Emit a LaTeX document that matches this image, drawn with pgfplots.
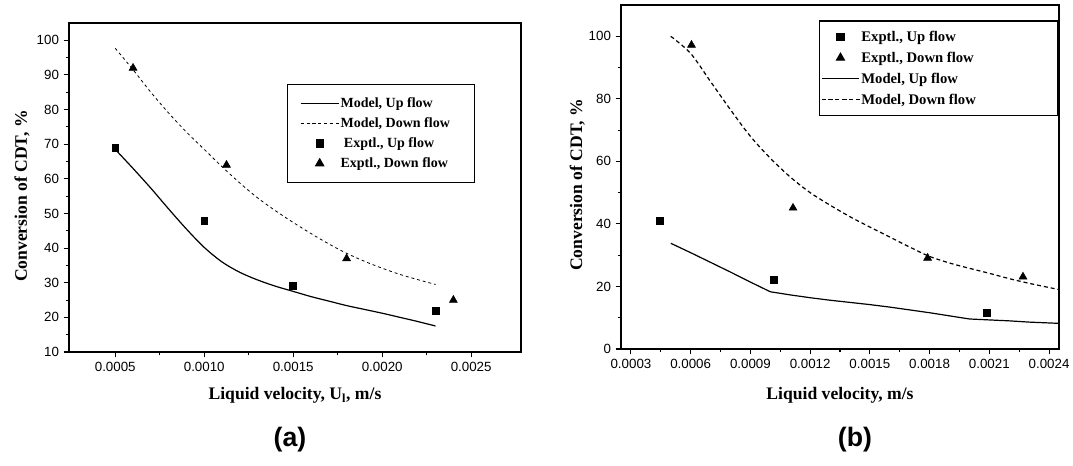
\documentclass[border=0pt]{standalone}
\usepackage{pgfplots}
\pgfplotsset{compat=1.18}
\usepackage{fontspec}
\setmainfont{Liberation Serif}
\newfontfamily\sansf{Liberation Sans}
\begin{document}
\begin{tikzpicture}
\path[use as bounding box] (0pt,0pt) rectangle (804.75pt,348.75pt);
\pgfplotsset{
  myax/.style={
    scale only axis,
    scaled x ticks=false, scaled y ticks=false,
    axis line style={line width=1pt},
    tick align=outside,
    xtick pos=bottom, ytick pos=left,
    major tick length=4pt, minor tick length=2.5pt,
    every tick/.style={black, line width=0.8pt},
    minor x tick num=1, minor y tick num=1,
    tick label style={font=\sansf\fontsize{10}{11}\selectfont},
    label style={font=\bfseries\fontsize{13.2}{15}\selectfont},
    legend cell align=left,
    legend image code/.code={\draw[mark repeat=2,mark phase=2,##1] plot coordinates {(0cm,0cm) (0.5cm,0cm) (1cm,0cm)};},
  },
  upm/.style={only marks, mark=square*, mark size=2.6pt, black},
  dnm/.style={only marks, mark=triangle*, mark size=3.4pt, black},
}
% ---------------- panel (a)
\begin{axis}[myax,
  at={(51.75pt,84.75pt)}, anchor=south west,
  width=339pt, height=246.75pt,
  xmin=0.00024, xmax=0.00278, ymin=10, ymax=105,
  xtick={0.0005,0.0010,0.0015,0.0020,0.0025},
  xticklabels={0.0005,0.0010,0.0015,0.0020,0.0025},
  ytick={10,20,30,40,50,60,70,80,90,100},
  yticklabels={10,20,30,40,50,60,70,80,90,100},
  xlabel={Liquid velocity, U\textsubscript{l}, m/s},
  ylabel={Conversion of CDT, \%},
  xlabel style={at={(axis description cs:0.5,-0.131)}, anchor=center},
  ylabel style={at={(axis description cs:-0.104,0.474)}, anchor=center},
  legend style={at={(rel axis cs:0.482,0.815)}, anchor=north west,
    draw=black, line width=0.9pt, font=\bfseries\fontsize{10.5}{12}\selectfont,
    inner xsep=9.5pt, inner ysep=7.5pt, row sep=1.5pt,
    nodes={inner sep=1pt, text height=9pt, text depth=2.5pt}},
]
\addplot[black, line width=0.9pt, smooth] coordinates {
(0.0005,68.5) (0.0006,63) (0.0007,57.3) (0.0008,51.3) (0.0009,45.5) (0.0010,40.2)
(0.0011,36) (0.0012,33) (0.0013,30.8) (0.0014,29) (0.0015,27.5) (0.0016,26)
(0.0017,24.7) (0.0018,23.4) (0.0019,22.3) (0.0020,21.2) (0.0021,20) (0.0022,18.8) (0.0023,17.5)};
\addlegendentry{Model, Up flow}
\addplot[black, line width=0.6pt, dash pattern=on 2.2pt off 2.2pt, smooth] coordinates {
(0.0005,97.7) (0.0006,91.5) (0.0007,85) (0.0008,79) (0.0009,73.5) (0.0010,68.5)
(0.0011,63.5) (0.0012,58.8) (0.0013,54.5) (0.0014,50.8) (0.0015,47.4) (0.0016,44.2)
(0.0017,41.2) (0.0018,38.5) (0.0019,36.2) (0.0020,34.2) (0.0021,32.4) (0.0022,30.9) (0.0023,29.5)};
\addlegendentry{Model, Down flow\hspace*{8pt}}
\addplot[upm] coordinates {(0.0005,69) (0.0010,48) (0.0015,29) (0.0023,22)};
\addlegendentry{\hspace*{2.5pt}Exptl., Up flow}
\addplot[dnm] coordinates {(0.0006,92) (0.001125,64) (0.0018,37) (0.0024,25)};
\addlegendentry{Exptl., Down flow}
\end{axis}
% ---------------- panel (b)
\begin{axis}[myax,
  at={(465.75pt,87pt)}, anchor=south west,
  width=328.5pt, height=258pt,
  xmin=0.00025, xmax=0.00245, ymin=0, ymax=110,
  xtick={0.0003,0.0006,0.0009,0.0012,0.0015,0.0018,0.0021,0.0024},
  xticklabels={0.0003,0.0006,0.0009,0.0012,0.0015,0.0018,0.0021,0.0024},
  ytick={0,20,40,60,80,100},
  yticklabels={0,20,40,60,80,100},
  xlabel={Liquid velocity, m/s},
  ylabel={Conversion of CDT, \%},
  xlabel style={at={(axis description cs:0.5,-0.134)}, anchor=center},
  ylabel style={at={(axis description cs:-0.100,0.477)}, anchor=center},
  legend style={at={(rel axis cs:0.452,0.955)}, anchor=north west,
    draw=black, line width=0.9pt, font=\bfseries\fontsize{11}{12}\selectfont,
    inner xsep=1pt, inner ysep=4.8pt, row sep=1.5pt,
    nodes={inner sep=1pt, text height=9.5pt, text depth=2.7pt}},
]
\addplot[upm] coordinates {(0.000445,41) (0.001015,22) (0.002089,11.7)};
\addlegendentry{Exptl., Up flow}
\addplot[dnm] coordinates {(0.000604,97.2) (0.001114,45.1) (0.00179,29.1) (0.002269,23.1)};
\addlegendentry{Exptl., Down flow}
\addplot[black, line width=0.9pt] coordinates {
(0.0005,33.8) (0.0006,30.8) (0.0007,27.7) (0.0008,24.6) (0.0009,21.4) (0.0010,18.3)
(0.0011,17.3) (0.0012,16.4) (0.0013,15.6) (0.0014,14.9) (0.0015,14.2) (0.0016,13.4)
(0.0017,12.5) (0.0018,11.6) (0.0019,10.6) (0.0020,9.6) (0.0021,9.3) (0.0022,9.0)
(0.0023,8.6) (0.00245,8.2)};
\addlegendentry{Model, Up flow}
\addplot[black, line width=0.9pt, dash pattern=on 3pt off 2.2pt, smooth] coordinates {
(0.0005,100) (0.0006,94.5) (0.0007,85.5) (0.0008,76.5) (0.0009,68) (0.0010,61)
(0.0011,55) (0.0012,50) (0.0013,46) (0.0014,42.3) (0.0015,39) (0.0016,35.8)
(0.0017,32.6) (0.0018,29.6) (0.0019,27.5) (0.0020,25.8) (0.0021,24.2) (0.0022,22.5)
(0.0023,21) (0.00245,19)};
\addlegendentry{Model, Down flow\hspace*{59pt}}
\end{axis}
\node[font=\sansf\bfseries\fontsize{20}{22}\selectfont] at (217.5pt,18.75pt) {(a)};
\node[font=\sansf\bfseries\fontsize{20}{22}\selectfont] at (641.25pt,18.75pt) {(b)};
\end{tikzpicture}
\end{document}
